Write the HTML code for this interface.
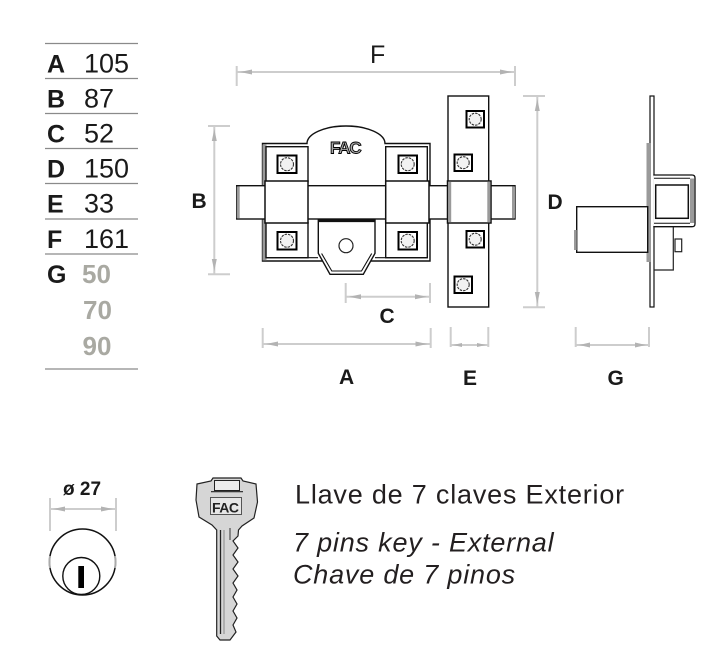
<!DOCTYPE html>
<html><head><meta charset="utf-8"><style>
html,body{margin:0;padding:0;background:#fff;}
svg{display:block;}
text{font-family:"Liberation Sans",Arial,sans-serif;}
</style></head><body>
<svg width="708" height="652" viewBox="0 0 708 652" xmlns="http://www.w3.org/2000/svg">
<rect width="708" height="652" fill="#fff"/>

<!-- TABLE -->
<g stroke="#8a8a8a" stroke-width="1.3">
<line x1="45" x2="138" y1="43.5" y2="43.5"/>
<line x1="45" x2="138" y1="78.5" y2="78.5"/>
<line x1="45" x2="138" y1="113.5" y2="113.5"/>
<line x1="45" x2="138" y1="148.5" y2="148.5"/>
<line x1="45" x2="138" y1="183.5" y2="183.5"/>
<line x1="45" x2="138" y1="219" y2="219"/>
<line x1="45" x2="138" y1="254" y2="254"/>
<line x1="45" x2="138" y1="369" y2="369"/>
</g>
<g font-size="25" font-weight="bold" fill="#1a1a1a">
<text x="47" y="72.5">A</text>
<text x="47" y="107.5">B</text>
<text x="47" y="142.5">C</text>
<text x="47" y="177.5">D</text>
<text x="47" y="212.5">E</text>
<text x="47" y="248">F</text>
<text x="47" y="283">G</text>
</g>
<g font-size="27" fill="#1a1a1a">
<text x="84" y="72.5">105</text>
<text x="84" y="107.5">87</text>
<text x="84" y="142.5">52</text>
<text x="84" y="177.5">150</text>
<text x="84" y="212.5">33</text>
<text x="84" y="248">161</text>
</g>
<g font-size="26" font-weight="bold" fill="#a9a9a2">
<text x="82" y="283">50</text>
<text x="83" y="319">70</text>
<text x="82.5" y="355">90</text>
</g>

<!-- DIMENSION LINES -->
<g stroke="#cdcdcd" stroke-width="2" fill="none">
<line x1="236.7" x2="515" y1="72" y2="72"/>
<line x1="236.7" x2="236.7" y1="66" y2="86"/>
<line x1="515" x2="515" y1="66" y2="86"/>
<line x1="214.3" x2="214.3" y1="126" y2="274.3"/>
<line x1="208" x2="230" y1="126" y2="126"/>
<line x1="208" x2="230" y1="274.3" y2="274.3"/>
<line x1="537.3" x2="537.3" y1="96" y2="307.3"/>
<line x1="523" x2="545" y1="96" y2="96"/>
<line x1="523" x2="545" y1="307.3" y2="307.3"/>
<line x1="345.7" x2="430" y1="296.7" y2="296.7"/>
<line x1="345.7" x2="345.7" y1="283" y2="303"/>
<line x1="430" x2="430" y1="283" y2="303"/>
<line x1="262.7" x2="430.7" y1="344" y2="344"/>
<line x1="262.7" x2="262.7" y1="328" y2="348"/>
<line x1="430.7" x2="430.7" y1="328" y2="348"/>
<line x1="450.7" x2="488.3" y1="345" y2="345"/>
<line x1="450.7" x2="450.7" y1="327" y2="347"/>
<line x1="488.3" x2="488.3" y1="327" y2="347"/>
<line x1="575.7" x2="649" y1="345" y2="345"/>
<line x1="575.7" x2="575.7" y1="327" y2="347"/>
<line x1="649" x2="649" y1="327" y2="347"/>
<line x1="50" x2="116" y1="509" y2="509"/>
<line x1="50" x2="50" y1="498" y2="531"/>
<line x1="116" x2="116" y1="498" y2="531"/>
</g>
<g fill="#b3b3b3">
<polygon points="240,72 252,69.5 252,74.5"/><polygon points="512,72 500,69.5 500,74.5"/>
<polygon points="349,296.7 361,294.2 361,299.2"/><polygon points="427,296.7 415,294.2 415,299.2"/>
<polygon points="266,344 278,341.5 278,346.5"/><polygon points="427.5,344 415.5,341.5 415.5,346.5"/>
<polygon points="453,345 462,343 462,347"/><polygon points="486,345 477,343 477,347"/>
<polygon points="579,345 590,342.5 590,347.5"/><polygon points="646,345 635,342.5 635,347.5"/>
<polygon points="53,509 65,506.5 65,511.5"/><polygon points="113,509 101,506.5 101,511.5"/>
<polygon points="214.3,129 211.8,141 216.8,141"/><polygon points="214.3,271 211.8,259 216.8,259"/>
<polygon points="537.3,99 534.8,111 539.8,111"/><polygon points="537.3,304 534.8,292 539.8,292"/>
</g>

<!-- DIM LABELS -->
<text x="370" y="63" font-size="25" fill="#1a1a1a">F</text>
<g font-size="21" font-weight="bold" fill="#1a1a1a">
<text x="191.5" y="208">B</text>
<text x="379.5" y="323">C</text>
<text x="547.5" y="209">D</text>
<text x="339" y="384">A</text>
<text x="463" y="385">E</text>
<text x="607.5" y="385">G</text>
</g>

<!-- MAIN LOCK -->
<g stroke="#111" stroke-width="1.4" fill="#fff">
<rect x="448" y="96" width="40.7" height="211"/>
<path d="M262.5,143.5 H307 A39,17.5 0 0 1 385,143.5 H430 V261 H262.5 Z"/>
</g>
<rect x="262.5" y="144.5" width="4" height="116" fill="#9a9a9a"/>
<g stroke="#111" stroke-width="1.2" fill="none">
<line x1="266" x2="307" y1="146.7" y2="146.7"/>
<line x1="385" x2="427.3" y1="146.7" y2="146.7"/>
<line x1="266" x2="318" y1="257.7" y2="257.7"/>
<line x1="375" x2="427.3" y1="257.7" y2="257.7"/>
<line x1="427.3" x2="427.3" y1="146.7" y2="257.7"/>
</g>
<text x="330" y="153.5" font-size="17" font-weight="bold" fill="#a8a8a8" stroke="#000" stroke-width="0.9" letter-spacing="-1.2">FAC</text>

<g stroke="#111" stroke-width="1.4" fill="#fff">
<rect x="266" y="146.7" width="42" height="35"/>
<rect x="266" y="222.7" width="42" height="35"/>
<rect x="385.7" y="146.7" width="41.6" height="35"/>
<rect x="385.7" y="222.7" width="41.6" height="35"/>
<path d="M318.3,219.3 V253.3 L330,274.3 H363.3 L375,253.3 V219.3 Z"/>
</g>
<path d="M321.6,253.5 L331.8,271 H361.5 L371.7,253.5" stroke="#111" stroke-width="1.1" fill="none"/>
<line x1="318.3" x2="375" y1="220.8" y2="220.8" stroke="#111" stroke-width="2.6"/>
<circle cx="346" cy="245.7" r="7" fill="#fff" stroke="#222" stroke-width="1.2"/>

<rect x="236.7" y="185.7" width="278.3" height="33.3" fill="#fff" stroke="#111" stroke-width="1.4"/>
<rect x="236.7" y="186.5" width="3" height="31.8" fill="#9a9a9a"/>
<rect x="512" y="186.5" width="3" height="31.8" fill="#9a9a9a"/>
<g stroke="#111" stroke-width="1.5" fill="#fff">
<rect x="265" y="181" width="43" height="42"/>
<rect x="385.7" y="181" width="43.3" height="42"/>
<rect x="447.5" y="181" width="43.5" height="42"/>
</g>
<rect x="448.2" y="181.8" width="3" height="40.4" fill="#9a9a9a"/>
<rect x="487.3" y="181.8" width="3" height="40.4" fill="#9a9a9a"/>

<g>
<g stroke="#000" stroke-width="2" fill="#fff">
<rect x="277.5" y="155.5" width="19" height="17.5"/>
<rect x="398.5" y="155.5" width="18.5" height="17.5"/>
<rect x="277.5" y="232" width="19" height="17.5"/>
<rect x="398.5" y="232" width="18.5" height="17.5"/>
<rect x="466.5" y="111" width="17.5" height="16.5"/>
<rect x="454.5" y="154.5" width="17.5" height="16.5"/>
<rect x="466.5" y="231" width="17.5" height="16.5"/>
<rect x="454.5" y="276.5" width="17.5" height="16.5"/>
</g>
<g stroke="#333" stroke-width="1.1" fill="#f2f2f2" stroke-dasharray="2.5 1">
<circle cx="287" cy="164.2" r="6.5"/>
<circle cx="407.7" cy="164.2" r="6.5"/>
<circle cx="287" cy="240.7" r="6.5"/>
<circle cx="407.7" cy="240.7" r="6.5"/>
<circle cx="475.2" cy="119.2" r="6"/>
<circle cx="463.2" cy="162.7" r="6"/>
<circle cx="475.2" cy="239.2" r="6"/>
<circle cx="463.2" cy="284.7" r="6"/>
</g>
</g>

<!-- G SIDE PART -->
<rect x="650" y="96" width="4" height="211" fill="#fff" stroke="#111" stroke-width="1.2"/>
<rect x="646.5" y="143" width="3.8" height="119" fill="#9a9a9a"/>
<rect x="576.7" y="206.7" width="71" height="45.6" fill="#fff" stroke="#111" stroke-width="1.4"/>
<rect x="574" y="230" width="2.7" height="20" fill="#9a9a9a"/>
<path d="M653.3,175 H692 Q695,175 695,178 V223.7 Q695,226.7 692,226.7 H653.3" fill="#fff" stroke="#111" stroke-width="1.3"/>
<rect x="690" y="178.5" width="4.5" height="44.5" fill="#9a9a9a"/>
<line x1="654" x2="690" y1="178.3" y2="178.3" stroke="#111" stroke-width="1"/>
<line x1="654" x2="690" y1="223.3" y2="223.3" stroke="#111" stroke-width="1"/>
<rect x="655.7" y="185" width="32.6" height="33.3" fill="#fff" stroke="#111" stroke-width="1.5"/>
<path d="M673.3,226.7 V270 H654" fill="none" stroke="#222" stroke-width="1.2"/>
<rect x="675" y="239" width="6.7" height="12.7" fill="#fff" stroke="#222" stroke-width="1.2"/>

<!-- CYLINDER FACE -->
<text x="63" y="495" font-size="19" font-weight="bold" fill="#1a1a1a">ø 27</text>
<circle cx="82.5" cy="562" r="33" fill="#fff" stroke="#111" stroke-width="1.5"/>
<path d="M50,556 A33,33 0 0 0 50,568" fill="none" stroke="#aaa" stroke-width="2"/>
<path d="M115,556 A33,33 0 0 1 115,568" fill="none" stroke="#aaa" stroke-width="2"/>
<circle cx="81.3" cy="576" r="18.5" fill="#fff" stroke="#111" stroke-width="1.4"/>
<rect x="78.3" y="566" width="5.7" height="22" fill="#000"/>

<!-- KEY -->
<path d="M197,484 L211,481 L213,478 H241 L243,481 L256,484 L257.5,502 L254,518 L242,526 L238.5,530 L238,536 L233,541 L238,548 L233,555 L238,562 L233,569 L238,576 L233,583 L237,590 L233,597 L237,604 L233,611 L237,618 L233,625 L236,632 L230,640 H220 L216.7,636 V530 L212,525 L199,517 L196,500 Z" fill="#d6d6d6" stroke="#222" stroke-width="1.2"/>
<rect x="214.5" y="480.5" width="25" height="10" fill="#ececec" stroke="#222" stroke-width="1"/>
<line x1="211" x2="243" y1="491.7" y2="491.7" stroke="#222" stroke-width="1.2"/>
<line x1="220.5" x2="220.5" y1="530" y2="634" stroke="#222" stroke-width="1.3"/>
<line x1="224" x2="224" y1="530" y2="634" stroke="#888" stroke-width="1"/>
<line x1="230" x2="230" y1="528" y2="540" stroke="#333" stroke-width="1"/>
<rect x="210.5" y="497.5" width="31" height="17" fill="#e6e6e6" stroke="#333" stroke-width="0.8"/>
<text x="212" y="512.5" font-size="14" font-weight="bold" fill="#222" letter-spacing="-0.5">FAC</text>

<!-- KEY TEXT -->
<g fill="#231f20" font-size="27" letter-spacing="0.8">
<text x="295" y="503.3">Llave de 7 claves Exterior</text>
<text x="293" y="551.7" font-style="italic">7 pins key - External</text>
<text x="293" y="583.3" font-style="italic">Chave de 7 pinos</text>
</g>
</svg>
</body></html>
